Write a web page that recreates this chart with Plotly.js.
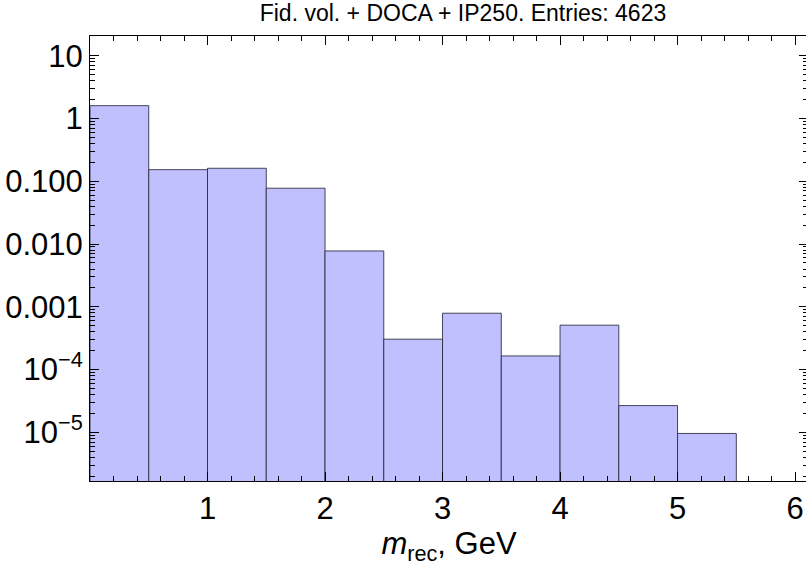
<!DOCTYPE html>
<html>
<head>
<meta charset="utf-8">
<script src="https://cdn.plot.ly/plotly-3.0.1.min.js"></script>
<style>html,body{margin:0;padding:0;background:#fff;overflow:hidden;}#chart{width:808px;height:576px;}</style>
</head>
<body>
<div id="chart"></div>
<script>
// Histogram bin edges (GeV) and normalized bin contents
var binEdges = [0, 0.5, 1, 1.5, 2, 2.5, 3, 3.5, 4, 4.5, 5, 5.5];
var binValues = [1.60, 0.153, 0.161, 0.0775, 0.00776, 3.05e-4, 7.9e-4, 1.65e-4, 5.1e-4, 2.67e-5, 9.6e-6];

var yTickVals = [10, 1, 0.1, 0.01, 0.001, 1e-4, 1e-5];
var yTickText = ["10", "1", "0.100", "0.010", "0.001", "10<sup>\u22124</sup>", "10<sup>\u22125</sup>"];
var xTickVals = [1, 2, 3, 4, 5, 6];
var xTickText = ["1", "2", "3", "4", "5", "6"];

var centers = [], widths = [];
for (var i = 0; i < binValues.length; i++) {
  centers.push((binEdges[i] + binEdges[i + 1]) / 2);
  widths.push(binEdges[i + 1] - binEdges[i]);
}

var yMinor = [];
for (var e = -6; e <= 1; e++) {
  for (var k = 2; k <= 9; k++) yMinor.push(k * Math.pow(10, e));
}
var xMinor = [];
for (var j = 0; j <= 31; j++) { var v = Math.round(j * 0.2 * 10) / 10; if (v % 1 !== 0) xMinor.push(v); }

var font = "Liberation Sans, Arial, sans-serif";

var trace = {
  type: "bar",
  x: centers,
  y: binValues,
  width: widths,
  marker: { color: "rgb(192,192,255)", line: { color: "rgba(40,40,60,0.85)", width: 1 } },
  hoverinfo: "x+y"
};

var layout = {
  width: 808, height: 576,
  margin: { l: 90, r: 0, t: 36, b: 95 },
  paper_bgcolor: "#fff", plot_bgcolor: "#fff",
  showlegend: false,
  bargap: 0,
  title: { text: "Fid. vol. + DOCA + IP250. Entries: 4623", font: { family: font, size: 23, color: "#000" }, x: 0.573, xanchor: "center", y: 0.977, yanchor: "middle" },
  xaxis: {
    range: [0, 6.11],
    tickmode: "array", tickvals: xTickVals, ticktext: xTickText,
    ticks: "inside", ticklen: 9, tickwidth: 1, tickcolor: "#000",
    minor: { tickmode: "array", tickvals: xMinor, ticks: "inside", ticklen: 5, tickwidth: 1, tickcolor: "#000" },
    showline: true, linecolor: "#000", linewidth: 1, mirror: "ticks",
    showgrid: false, zeroline: false,
    tickfont: { family: font, size: 31, color: "#000" },
    title: { text: "<i>m</i><sub>rec</sub>, GeV", font: { family: font, size: 31, color: "#000" }, standoff: 5 }
  },
  yaxis: {
    type: "log",
    range: [-5.775, 1.314],
    tickmode: "array", tickvals: yTickVals, ticktext: yTickText,
    ticks: "inside", ticklen: 9, tickwidth: 1, tickcolor: "#000",
    minor: { tickmode: "array", tickvals: yMinor, ticks: "inside", ticklen: 5, tickwidth: 1, tickcolor: "#000" },
    showline: true, linecolor: "#000", linewidth: 1, mirror: "ticks",
    showgrid: false, zeroline: false,
    tickfont: { family: font, size: 31, color: "#000" }
  }
};

Plotly.newPlot("chart", [trace], layout, { displayModeBar: false, staticPlot: true });
</script>
</body>
</html>
